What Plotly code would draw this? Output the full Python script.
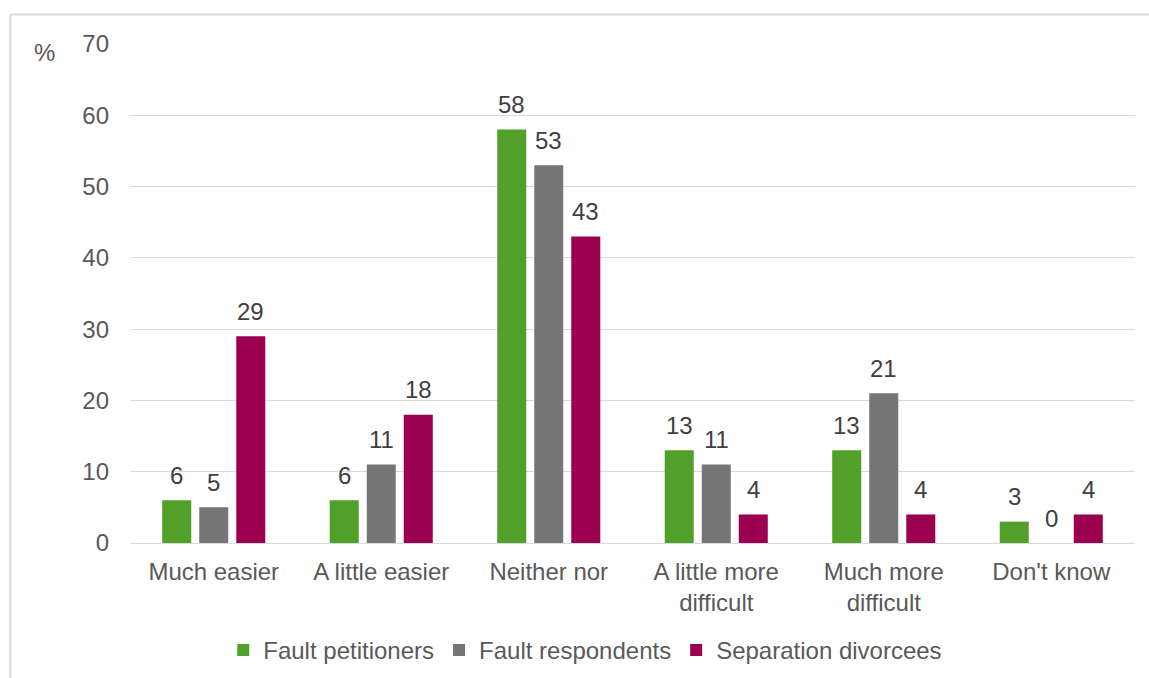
import plotly.graph_objects as go

categories = ["Much easier", "A little easier", "Neither nor", "A little more<br>difficult", "Much more<br>difficult", "Don't know"]
fault_petitioners = [6, 6, 58, 13, 13, 3]
fault_respondents = [5, 11, 53, 11, 21, 0]
separation_divorcees = [29, 18, 43, 4, 4, 4]
series_names = ["Fault petitioners", "Fault respondents", "Separation divorcees"]
colors = ["#52a02a", "#767676", "#9b0050"]
y_ticks = [0, 10, 20, 30, 40, 50, 60, 70]

FONT = "Liberation Sans, Arial, sans-serif"
FS = 24

fig = go.Figure()
annotations = []
all_series = [fault_petitioners, fault_respondents, separation_divorcees]
for k, (name, vals, col) in enumerate(zip(series_names, all_series, colors)):
    fig.add_trace(go.Bar(
        name=name, x=categories, y=vals,
        marker=dict(color=col, line=dict(width=0)),
    ))
    for cat, v in zip(categories, vals):
        annotations.append(dict(
            x=cat, y=v, xref="x", yref="y", text=str(v), showarrow=False,
            xanchor="center", yanchor="middle", xshift=(k - 1) * 37, yshift=25,
            font=dict(family=FONT, size=FS, color="#404040"),
        ))

annotations.append(dict(text="%", xref="paper", yref="paper", x=-0.085, y=0.982, xanchor="center",
                        yanchor="middle", showarrow=False,
                        font=dict(family=FONT, size=FS, color="#595959")))

fig.update_layout(
    width=1149, height=678,
    margin=dict(l=130, r=14, t=44, b=135, autoexpand=False),
    paper_bgcolor="white", plot_bgcolor="white",
    barmode="group", bargap=0.337, bargroupgap=0.216,
    font=dict(family=FONT, size=FS, color="#595959"),
    showlegend=True,
    legend=dict(orientation="h", x=0.453, xanchor="center", y=-0.215, yanchor="middle",
                font=dict(family=FONT, size=FS, color="#595959"),
                itemwidth=30, traceorder="normal"),
    xaxis=dict(showgrid=False, showline=False, ticks="", ticklabelstandoff=12,
               tickfont=dict(family=FONT, size=FS, color="#595959")),
    yaxis=dict(range=[0, 70], tickvals=y_ticks, showgrid=True, gridcolor="#d9d9d9", gridwidth=1,
               zeroline=True, zerolinecolor="#d9d9d9", zerolinewidth=1,
               showline=False, ticks="", ticklabelstandoff=20,
               tickfont=dict(family=FONT, size=FS, color="#595959")),
    annotations=annotations,
    shapes=[
        dict(type="line", xref="paper", yref="paper", x0=-0.119, x1=1.02, y0=1.059, y1=1.059,
             line=dict(color="#d9d9d9", width=2)),
        dict(type="line", xref="paper", yref="paper", x0=-0.119, x1=-0.119, y0=1.059, y1=-0.3,
             line=dict(color="#d9d9d9", width=2)),
    ],
)

fig.write_html("out.html", config={"displayModeBar": False},
               post_script="document.body.style.margin='0';")
